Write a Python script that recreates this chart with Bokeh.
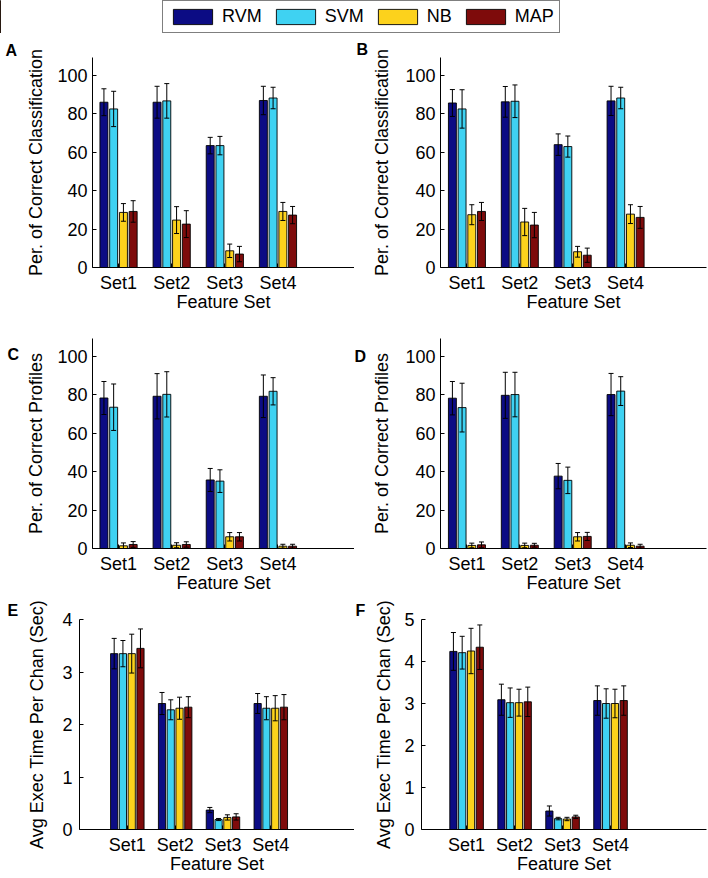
from bokeh.plotting import figure
from bokeh.models import (ColumnDataSource, Whisker, TeeHead, FixedTicker, Range1d,
                          Legend, LegendItem)
from bokeh.layouts import column, row
from bokeh.embed import file_html
from bokeh.resources import INLINE

categories = ["Set1", "Set2", "Set3", "Set4"]
methods = ["RVM", "SVM", "NB", "MAP"]
colors = ["#0c0c84", "#3fd2f2", "#fcd21c", "#7e0b0b"]

# means[method][set], errs[method][set]
a_means = [[86.1, 86.1, 63.5, 87.0], [82.6, 86.8, 63.5, 88.3], [28.7, 24.7, 8.7, 29.2], [29.2, 22.6, 7.0, 27.3]]
a_errs = [[7.0, 8.3, 4.3, 7.4], [9.2, 9.0, 4.8, 5.6], [4.6, 7.0, 3.5, 4.7], [5.6, 7.0, 4.0, 4.5]]
b_means = [[85.7, 86.3, 64.0, 86.8], [82.6, 86.6, 63.0, 88.3], [27.5, 23.7, 8.2, 27.8], [29.2, 22.1, 6.4, 26.1]]
b_errs = [[7.0, 8.0, 5.6, 7.6], [10.0, 8.5, 5.5, 5.6], [5.2, 7.1, 2.8, 4.9], [4.7, 6.6, 3.7, 5.7]]
c_means = [[78.4, 79.3, 35.7, 79.3], [73.6, 80.3, 35.1, 81.9], [1.4, 1.7, 6.1, 1.2], [2.1, 2.1, 6.1, 1.2]]
c_errs = [[8.6, 11.8, 6.0, 11.1], [12.1, 11.8, 5.9, 7.1], [1.5, 1.3, 2.2, 1.0], [1.5, 1.4, 2.2, 1.0]]
d_means = [[78.3, 79.8, 37.7, 80.2], [73.4, 80.2, 35.5, 82.0], [1.6, 1.6, 6.1, 1.7], [1.9, 1.7, 6.3, 1.2]]
d_errs = [[8.7, 12.0, 6.6, 11.0], [12.7, 11.6, 6.9, 7.5], [1.2, 1.2, 2.2, 1.2], [1.5, 1.0, 2.1, 1.0]]
e_means = [[3.35, 2.40, 0.37, 2.40], [3.35, 2.28, 0.19, 2.31], [3.35, 2.31, 0.23, 2.31], [3.45, 2.33, 0.24, 2.33]]
e_errs = [[0.29, 0.21, 0.05, 0.19], [0.25, 0.19, 0.02, 0.22], [0.37, 0.21, 0.05, 0.24], [0.37, 0.20, 0.06, 0.24]]
f_means = [[4.24, 3.09, 0.44, 3.07], [4.21, 3.02, 0.26, 3.00], [4.25, 3.02, 0.25, 3.00], [4.34, 3.04, 0.30, 3.07]]
f_errs = [[0.45, 0.37, 0.12, 0.35], [0.39, 0.35, 0.03, 0.35], [0.54, 0.32, 0.04, 0.34], [0.53, 0.35, 0.04, 0.35]]

pct_ticks = [0, 20, 40, 60, 80, 100]
e_ticks = [0, 1, 2, 3, 4]
f_ticks = [0, 1, 2, 3, 4, 5]

xlabel = "Feature Set"
ylab_class = "Per. of Correct Classification"
ylab_prof = "Per. of Correct Profiles"
ylab_time = "Avg Exec Time Per Chan (Sec)"

FONT = "Liberation Sans"
OFFSETS = [-0.275, -0.092, 0.092, 0.275]
BAR_W = 0.15
FRAME_H = 210


def panel(means, errs, ylabel, yticks, y_end, x_start, x_end, frame_w,
          b_left, b_right, b_top, b_bottom, lab_standoff, tick_standoff):
    p = figure(frame_width=frame_w, frame_height=FRAME_H,
               x_range=Range1d(x_start, x_end), y_range=Range1d(0, y_end),
               output_backend="svg", toolbar_location=None,
               min_border_left=b_left, min_border_right=b_right,
               min_border_top=b_top, min_border_bottom=b_bottom)
    p.outline_line_color = None
    p.grid.visible = False
    pos = list(range(1, len(categories) + 1))
    for i, m in enumerate(methods):
        xs = [x + OFFSETS[i] for x in pos]
        src = ColumnDataSource(dict(
            x=xs, top=means[i],
            upper=[v + e for v, e in zip(means[i], errs[i])],
            lower=[v - e for v, e in zip(means[i], errs[i])]))
        p.vbar(x="x", top="top", width=BAR_W, source=src, fill_color=colors[i],
               line_color="black", line_width=0.9)
        w = Whisker(base="x", upper="upper", lower="lower", source=src,
                    line_color="black", line_width=1,
                    upper_head=TeeHead(size=5, line_color="black", line_width=1),
                    lower_head=TeeHead(size=5, line_color="black", line_width=1))
        w.level = "annotation"
        p.add_layout(w)
    for ax in (p.xaxis[0], p.yaxis[0]):
        ax.axis_line_color = "black"
        ax.axis_line_width = 1
        ax.major_tick_in = 4
        ax.major_tick_out = 0
        ax.major_tick_line_color = "black"
        ax.minor_tick_line_color = None
        ax.major_label_text_font = FONT
        ax.major_label_text_font_size = "18px"
        ax.major_label_text_color = "black"
        ax.axis_label_text_font = FONT
        ax.axis_label_text_font_size = "18px"
        ax.axis_label_text_font_style = "normal"
        ax.axis_label_text_color = "black"
    p.xaxis.ticker = FixedTicker(ticks=pos)
    p.xaxis.major_label_overrides = {k: c for k, c in zip(pos, categories)}
    p.xaxis.axis_label = xlabel
    p.xaxis.major_label_standoff = 5
    p.xaxis.axis_label_standoff = -4
    p.yaxis.ticker = FixedTicker(ticks=yticks)
    p.yaxis.axis_label = ylabel
    p.yaxis.major_label_standoff = tick_standoff
    p.yaxis.axis_label_standoff = lab_standoff
    return p


def letter(p, text, offset, standoff, valign="bottom"):
    p.title.text = text
    p.title.align = "left"
    p.title.vertical_align = valign
    p.title.offset = offset
    p.title.standoff = standoff
    p.title.text_font = FONT
    p.title.text_font_size = "16px"
    p.title.text_font_style = "bold"
    p.title.text_color = "black"


# row 1 (A, B)
pA = panel(a_means, a_errs, ylab_class, pct_ticks, 109.4, 0.51, 5.44, 262, 92, 0, 24, 49, 8, 5)
pB = panel(b_means, b_errs, ylab_class, pct_ticks, 109.4, 0.5, 5.53, 266, 86, 2, 24, 49, 10, 5)
# row 2 (C, D)
pC = panel(c_means, c_errs, ylab_prof, pct_ticks, 109.4, 0.51, 5.44, 262, 92, 0, 22, 49, 8, 5)
pD = panel(d_means, d_errs, ylab_prof, pct_ticks, 109.4, 0.5, 5.53, 266, 86, 2, 22, 49, 10, 5)
# row 3 (E, F)
pE = panel(e_means, e_errs, ylab_time, e_ticks, 4, 0.0, 5.75, 275, 79, 0, 22, 49, 12, 7)
pF = panel(f_means, f_errs, ylab_time, f_ticks, 5, 0.06, 6.0, 285, 67, 2, 22, 49, 7, 7)

letter(pA, "A", -87, -2)
letter(pB, "B", -84, 0)
letter(pC, "C", -85, -48)
letter(pD, "D", -86, -52)
letter(pE, "E", -72, -2, "top")
letter(pF, "F", -66, -2, "top")

# legend strip
lf = figure(width=708, height=33, x_range=Range1d(0, 1), y_range=Range1d(0, 1),
            x_axis_location=None, y_axis_location=None, title=None,
            output_backend="svg", toolbar_location=None, min_border=0)
lf.outline_line_color = None
lf.grid.visible = False
items = []
for m, c in zip(methods, colors):
    r = lf.vbar(x=[-5], top=[1], width=0.1, fill_color=c, line_color="black", line_width=0.9)
    items.append(LegendItem(label=m, renderers=[r]))
leg = Legend(items=items, orientation="horizontal", location=(162, 0),
             glyph_width=49, glyph_height=19, label_height=20, label_standoff=5, spacing=9,
             padding=5, margin=0, border_line_color="black", border_line_width=1,
             label_text_font=FONT, label_text_font_size="18px", label_text_color="black",
             background_fill_alpha=1)
lf.add_layout(leg)

layout = column(lf, row(pA, pB), row(pC, pD), row(pE, pF))
open("out.html", "w").write(file_html(layout, INLINE))
